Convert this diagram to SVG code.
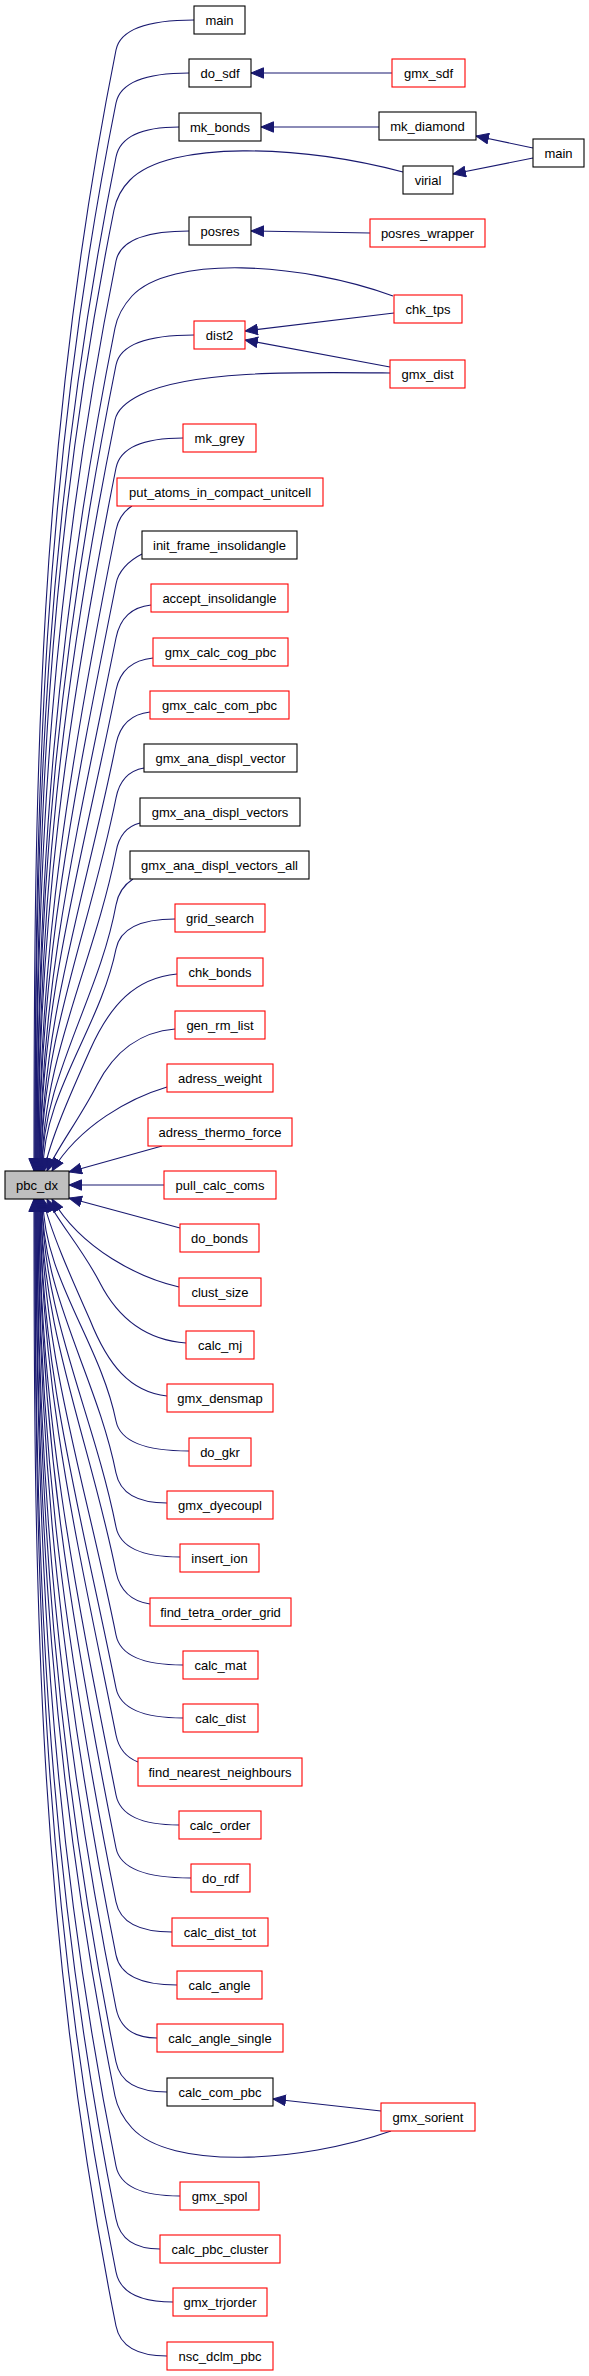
<svg xmlns="http://www.w3.org/2000/svg" width="589" height="2376" viewBox="0 0 589 2376">
<defs>
<style>
.node rect{fill:#ffffff;stroke-width:1.1}
.blk rect{stroke:#000000}
.red rect{stroke:#ff0000}
.cur rect{fill:#bfbfbf;stroke:#000000}
.node text{font-family:"Liberation Sans",Arial,sans-serif;font-size:13px;fill:#000000;text-anchor:middle}
#edges path{fill:none;stroke:#191970;stroke-width:1.1;marker-end:url(#arr)}
</style>
<marker id="arr" markerUnits="userSpaceOnUse" markerWidth="14" markerHeight="12" viewBox="0 0 14 12" refX="13" refY="6" orient="auto">
<path d="M0.5,0.8 L13,6 L0.5,11.2 z" fill="#191970" stroke="#191970" stroke-width="1"/>
</marker>
</defs>
<rect x="0" y="0" width="589" height="2376" fill="#ffffff"/>
<g id="edges">
<path d="M194,20 Q122,20 116,50 C37.6,442 34,779 34,1171"/>
<path d="M189,73 Q122,73 116,103 C41.2,477 35,797 35,1171"/>
<path d="M179,127 Q122,127 116,157 C45,512 35,816 35,1171"/>
<path d="M403,172 C300,145 170,140 130,180 C120,190 116,200 114,210 C46.8,546 36,835 36,1171"/>
<path d="M189,231 Q122,231 116,261 C52.3,579.5 36,852.5 36,1171"/>
<path d="M393,296 C300,262 170,255 132,296 C122,307 117,318 115,328 C56,623 37,876 37,1171"/>
<path d="M194,335 Q122,335 116,365 C59.6,647 37,889 37,1171"/>
<path d="M390,373 C300,372 190,370 140,395 C126,402 117,410 115,420 C62,683 38,908 38,1171"/>
<path d="M183,438 Q122,438 116,468 C66.8,714 38,925 38,1171"/>
<path d="M132,506 C124,511 118,520 116,530 C71.2,754 39,947 39,1171"/>
<path d="M142,554 C128,561 118,572 116,584 C75,789 39,966 39,1171"/>
<path d="M151,605 Q122,608 116,638 C78.6,825 40,984 40,1171"/>
<path d="M153,658 Q122,661 116,690 C82.4,858 40,1003 40,1171"/>
<path d="M150,712 Q122,715 116,744 C86.2,893 41,1022 41,1171"/>
<path d="M144,768 Q121,772 116,798 C89.8,929 41,1040 41,1171"/>
<path d="M140,823 Q120,828 116,852 C93.6,964 42,1059 42,1171"/>
<path d="M133,879 Q119,888 116,905 C99,998 42,1078 42,1171"/>
<path d="M175,919 Q122,919 116,949 C100.4,1027 43,1093 43,1171"/>
<path d="M177,974 C135,978 110,1005 90,1050 C70,1095 50,1140 44,1171"/>
<path d="M175,1029 C140,1032 115,1050 97,1085 C80,1118 56,1150 47,1171"/>
<path d="M167,1087 C130,1098 80,1125 52,1171"/>
<path d="M162,1146 L69,1172"/>
<path d="M164,1185 L69,1185"/>
<path d="M180,1228 L69,1198"/>
<path d="M179,1287 C140,1278 82,1250 52,1199"/>
<path d="M186,1343 C145,1340 118,1318 100,1283 C82,1248 58,1222 47,1199"/>
<path d="M167,1396 C130,1392 108,1365 90,1320 C70,1275 50,1230 43,1199"/>
<path d="M189,1451 Q122,1451 116,1421 C100.4,1343 43,1277 43,1199"/>
<path d="M167,1503 Q122,1503 116,1473 C96.8,1377 42,1295 42,1199"/>
<path d="M180,1557 Q122,1557 116,1527 C93,1412 42,1314 42,1199"/>
<path d="M150,1604 Q122,1600 116,1572 C89.8,1441 41,1330 41,1199"/>
<path d="M183,1665 Q122,1665 116,1635 C85.4,1482 41,1352 41,1199"/>
<path d="M183,1718 Q122,1718 116,1688 C81.8,1517 40,1370 40,1199"/>
<path d="M138,1762 Q120,1755 116,1735 C78.4,1547 40,1387 40,1199"/>
<path d="M179,1825 Q122,1825 116,1795 C74.2,1586 39,1408 39,1199"/>
<path d="M191,1878 Q122,1878 116,1848 C70.6,1621 39,1426 39,1199"/>
<path d="M172,1932 Q122,1932 116,1902 C66.8,1656 38,1445 38,1199"/>
<path d="M177,1985 Q122,1985 116,1955 C63,1690 38,1464 38,1199"/>
<path d="M157,2038 Q122,2038 116,2008 C59.4,1725 37,1482 37,1199"/>
<path d="M167,2092 Q122,2092 116,2062 C55.6,1760 37,1501 37,1199"/>
<path d="M391,2131 C300,2163 170,2170 132,2128 C122,2117 117,2106 115,2096 C52.2,1782 36,1513 36,1199"/>
<path d="M180,2196 Q122,2196 116,2166 C48.4,1828 36,1537 36,1199"/>
<path d="M160,2249 Q122,2249 116,2219 C44.6,1862 35,1556 35,1199"/>
<path d="M173,2302 Q122,2302 116,2272 C40.8,1896 35,1575 35,1199"/>
<path d="M167,2356 Q122,2356 116,2326 C37.2,1932 34,1593 34,1199"/>
<path d="M392,73 L251,73"/>
<path d="M379,127 L261,127"/>
<path d="M533,148 L476,136"/>
<path d="M533,158 L453,174"/>
<path d="M370,233 L251,231"/>
<path d="M394,313 L245,331"/>
<path d="M390,367 L245,340"/>
<path d="M381,2111 L273,2099"/>
</g>
<g id="node_pbc_dx" class="node cur"><rect x="5" y="1171" width="64" height="28"/><text x="37" y="1189.5">pbc_dx</text></g>
<g id="node_main" class="node blk"><rect x="194" y="6" width="51" height="28"/><text x="219.5" y="24.5">main</text></g>
<g id="node_do_sdf" class="node blk"><rect x="189" y="59" width="62" height="28"/><text x="220" y="77.5">do_sdf</text></g>
<g id="node_mk_bonds" class="node blk"><rect x="179" y="113" width="82" height="28"/><text x="220" y="131.5">mk_bonds</text></g>
<g id="node_posres" class="node blk"><rect x="189" y="217" width="62" height="28"/><text x="220" y="235.5">posres</text></g>
<g id="node_dist2" class="node red"><rect x="194" y="321" width="51" height="28"/><text x="219.5" y="339.5">dist2</text></g>
<g id="node_mk_grey" class="node red"><rect x="183" y="424" width="73" height="28"/><text x="219.5" y="442.5">mk_grey</text></g>
<g id="node_put_atoms_in_compact_unitcell" class="node red"><rect x="117" y="478" width="206" height="28"/><text x="220" y="496.5">put_atoms_in_compact_unitcell</text></g>
<g id="node_init_frame_insolidangle" class="node blk"><rect x="142" y="531" width="155" height="28"/><text x="219.5" y="549.5">init_frame_insolidangle</text></g>
<g id="node_accept_insolidangle" class="node red"><rect x="151" y="584" width="137" height="28"/><text x="219.5" y="602.5">accept_insolidangle</text></g>
<g id="node_gmx_calc_cog_pbc" class="node red"><rect x="153" y="638" width="135" height="28"/><text x="220.5" y="656.5">gmx_calc_cog_pbc</text></g>
<g id="node_gmx_calc_com_pbc" class="node red"><rect x="150" y="691" width="139" height="28"/><text x="219.5" y="709.5">gmx_calc_com_pbc</text></g>
<g id="node_gmx_ana_displ_vector" class="node blk"><rect x="144" y="744" width="153" height="28"/><text x="220.5" y="762.5">gmx_ana_displ_vector</text></g>
<g id="node_gmx_ana_displ_vectors" class="node blk"><rect x="140" y="798" width="160" height="28"/><text x="220" y="816.5">gmx_ana_displ_vectors</text></g>
<g id="node_gmx_ana_displ_vectors_all" class="node blk"><rect x="130" y="851" width="179" height="28"/><text x="219.5" y="869.5">gmx_ana_displ_vectors_all</text></g>
<g id="node_grid_search" class="node red"><rect x="175" y="904" width="90" height="28"/><text x="220" y="922.5">grid_search</text></g>
<g id="node_chk_bonds" class="node red"><rect x="177" y="958" width="86" height="28"/><text x="220" y="976.5">chk_bonds</text></g>
<g id="node_gen_rm_list" class="node red"><rect x="175" y="1011" width="90" height="28"/><text x="220" y="1029.5">gen_rm_list</text></g>
<g id="node_adress_weight" class="node red"><rect x="167" y="1064" width="106" height="28"/><text x="220" y="1082.5">adress_weight</text></g>
<g id="node_adress_thermo_force" class="node red"><rect x="148" y="1118" width="144" height="28"/><text x="220" y="1136.5">adress_thermo_force</text></g>
<g id="node_pull_calc_coms" class="node red"><rect x="164" y="1171" width="112" height="28"/><text x="220" y="1189.5">pull_calc_coms</text></g>
<g id="node_do_bonds" class="node red"><rect x="180" y="1224" width="79" height="28"/><text x="219.5" y="1242.5">do_bonds</text></g>
<g id="node_clust_size" class="node red"><rect x="179" y="1278" width="82" height="28"/><text x="220" y="1296.5">clust_size</text></g>
<g id="node_calc_mj" class="node red"><rect x="186" y="1331" width="68" height="28"/><text x="220" y="1349.5">calc_mj</text></g>
<g id="node_gmx_densmap" class="node red"><rect x="167" y="1384" width="106" height="28"/><text x="220" y="1402.5">gmx_densmap</text></g>
<g id="node_do_gkr" class="node red"><rect x="189" y="1438" width="62" height="28"/><text x="220" y="1456.5">do_gkr</text></g>
<g id="node_gmx_dyecoupl" class="node red"><rect x="167" y="1491" width="106" height="28"/><text x="220" y="1509.5">gmx_dyecoupl</text></g>
<g id="node_insert_ion" class="node red"><rect x="180" y="1544" width="79" height="28"/><text x="219.5" y="1562.5">insert_ion</text></g>
<g id="node_find_tetra_order_grid" class="node red"><rect x="150" y="1598" width="141" height="28"/><text x="220.5" y="1616.5">find_tetra_order_grid</text></g>
<g id="node_calc_mat" class="node red"><rect x="183" y="1651" width="75" height="28"/><text x="220.5" y="1669.5">calc_mat</text></g>
<g id="node_calc_dist" class="node red"><rect x="183" y="1704" width="75" height="28"/><text x="220.5" y="1722.5">calc_dist</text></g>
<g id="node_find_nearest_neighbours" class="node red"><rect x="138" y="1758" width="164" height="28"/><text x="220" y="1776.5">find_nearest_neighbours</text></g>
<g id="node_calc_order" class="node red"><rect x="179" y="1811" width="82" height="28"/><text x="220" y="1829.5">calc_order</text></g>
<g id="node_do_rdf" class="node red"><rect x="191" y="1864" width="59" height="28"/><text x="220.5" y="1882.5">do_rdf</text></g>
<g id="node_calc_dist_tot" class="node red"><rect x="172" y="1918" width="96" height="28"/><text x="220" y="1936.5">calc_dist_tot</text></g>
<g id="node_calc_angle" class="node red"><rect x="177" y="1971" width="85" height="28"/><text x="219.5" y="1989.5">calc_angle</text></g>
<g id="node_calc_angle_single" class="node red"><rect x="157" y="2024" width="126" height="28"/><text x="220" y="2042.5">calc_angle_single</text></g>
<g id="node_calc_com_pbc" class="node blk"><rect x="167" y="2078" width="106" height="28"/><text x="220" y="2096.5">calc_com_pbc</text></g>
<g id="node_gmx_spol" class="node red"><rect x="180" y="2182" width="79" height="28"/><text x="219.5" y="2200.5">gmx_spol</text></g>
<g id="node_calc_pbc_cluster" class="node red"><rect x="160" y="2235" width="120" height="28"/><text x="220" y="2253.5">calc_pbc_cluster</text></g>
<g id="node_gmx_trjorder" class="node red"><rect x="173" y="2288" width="94" height="28"/><text x="220" y="2306.5">gmx_trjorder</text></g>
<g id="node_nsc_dclm_pbc" class="node red"><rect x="167" y="2342" width="106" height="28"/><text x="220" y="2360.5">nsc_dclm_pbc</text></g>
<g id="node_gmx_sdf" class="node red"><rect x="392" y="59" width="73" height="28"/><text x="428.5" y="77.5">gmx_sdf</text></g>
<g id="node_mk_diamond" class="node blk"><rect x="379" y="112" width="97" height="28"/><text x="427.5" y="130.5">mk_diamond</text></g>
<g id="node_virial" class="node blk"><rect x="403" y="166" width="50" height="28"/><text x="428" y="184.5">virial</text></g>
<g id="node_posres_wrapper" class="node red"><rect x="370" y="219" width="115" height="28"/><text x="427.5" y="237.5">posres_wrapper</text></g>
<g id="node_chk_tps" class="node red"><rect x="394" y="295" width="68" height="28"/><text x="428" y="313.5">chk_tps</text></g>
<g id="node_gmx_dist" class="node red"><rect x="390" y="360" width="75" height="28"/><text x="427.5" y="378.5">gmx_dist</text></g>
<g id="node_gmx_sorient" class="node red"><rect x="381" y="2103" width="94" height="28"/><text x="428" y="2121.5">gmx_sorient</text></g>
<g id="node_main_2" class="node blk"><rect x="533" y="139" width="51" height="28"/><text x="558.5" y="157.5">main</text></g>
</svg>
